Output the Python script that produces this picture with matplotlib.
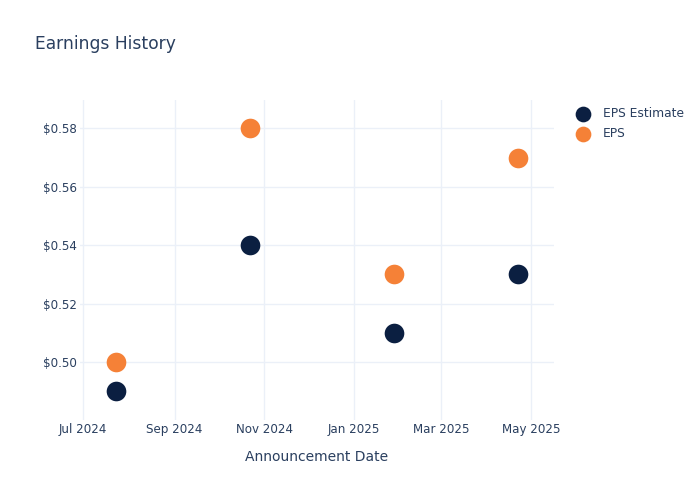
import numpy as np
import pandas as pd
import matplotlib
matplotlib.use("Agg")
import matplotlib.pyplot as plt
import matplotlib.dates as mdates
from matplotlib.ticker import FuncFormatter

# earnings announcements
dates = pd.to_datetime(["2024-07-23", "2024-10-22", "2025-01-28", "2025-04-22"])
eps_estimate = [0.49, 0.54, 0.51, 0.53]
eps_actual = [0.50, 0.58, 0.53, 0.57]

text_col = "#2a3f5f"
grid_col = "#ebf0f8"
navy = "#0b1f41"
orange = "#f58137"

fig = plt.figure(figsize=(7, 5), dpi=100)
ax = fig.add_axes([80 / 700, 80 / 500, 474 / 700, 320 / 500])

ax.scatter(dates, eps_estimate, s=200, color=navy, label="EPS Estimate", zorder=3, linewidths=0)
ax.scatter(dates, eps_actual, s=200, color=orange, label="EPS", zorder=3, linewidths=0)

ax.set_xlim(pd.Timestamp("2024-06-28 20:00"), pd.Timestamp("2025-05-16 14:00"))
ax.set_ylim(0.4801, 0.5897)

ax.xaxis.set_major_locator(mdates.MonthLocator(bymonth=[1, 3, 5, 7, 9, 11]))
ax.xaxis.set_major_formatter(mdates.DateFormatter("%b %Y"))
ax.set_yticks([0.50, 0.52, 0.54, 0.56, 0.58])
ax.yaxis.set_major_formatter(FuncFormatter(lambda v, p: f"${v:.2f}"))

ax.grid(True, color=grid_col, linewidth=1)
ax.set_axisbelow(True)
for s in ax.spines.values():
    s.set_visible(False)
ax.tick_params(length=0, colors=text_col, labelsize=8.6)
ax.tick_params(axis="y", pad=2)
ax.tick_params(axis="x", pad=2.5)

ax.set_xlabel("Announcement Date", color=text_col, fontsize=10, labelpad=9.5)

fig.text(35 / 700, 1 - 44 / 500, "Earnings History", color=text_col, fontsize=12.3, va="center", ha="left")

leg = fig.legend(loc="upper left", bbox_to_anchor=(571 / 700, 1 - 107 / 500), frameon=False,
                 fontsize=8.8, markerscale=0.8, handletextpad=0.6, labelspacing=0.55,
                 borderaxespad=0, borderpad=0)
for t in leg.get_texts():
    t.set_color(text_col)

fig.savefig("out.png", dpi=100)
